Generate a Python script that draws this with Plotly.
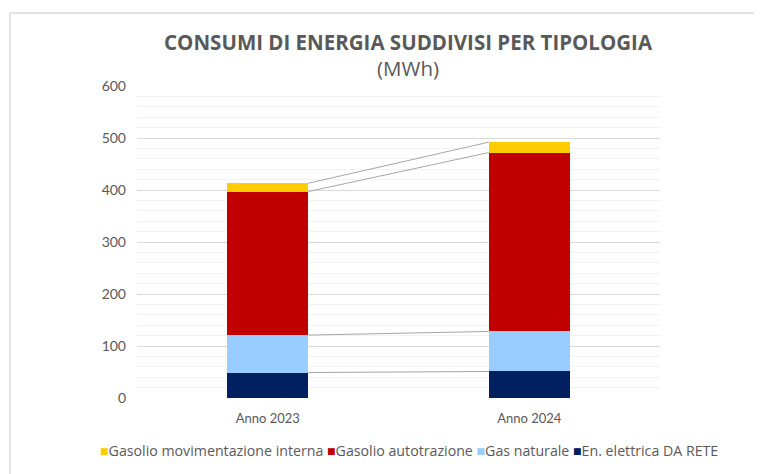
import plotly.graph_objects as go

# dati (MWh)
anni = ["Anno 2023", "Anno 2024"]
serie = ["En. elettrica DA RETE", "Gas naturale", "Gasolio autotrazione", "Gasolio movimentazione interna"]
en_elettrica = [49, 51]
gas_naturale = [72, 77]
gasolio_autotrazione = [276, 344]
gasolio_movimentazione = [16, 20]
colori = ["#002060", "#99CCFF", "#C00000", "#FFCC00"]

valori = [en_elettrica, gas_naturale, gasolio_autotrazione, gasolio_movimentazione]
x = [0, 1]
w = 0.31

fig = go.Figure()

#---------------------------- barre impilate ----------------------------
for nome, val, col in zip(serie, valori, colori):
    fig.add_trace(go.Bar(x=x, y=val, name=nome, width=w, showlegend=False,
                         marker=dict(color=col, line=dict(width=0))))

#---------------------------- linee di serie ----------------------------
cum = [0, 0]
for val in valori:
    cum = [cum[0] + val[0], cum[1] + val[1]]
    fig.add_trace(go.Scatter(x=[x[0] + w / 2, x[1] - w / 2], y=cum, mode="lines",
                             line=dict(color="#a6a6a6", width=1),
                             showlegend=False, hoverinfo="skip"))

#---------------------------- legenda (una riga, stile excel) ----------------------------
voci = ['<span style="color:%s">■</span>%s' % (c, n) for n, c in zip(serie, colori)]
legenda = " ".join(reversed(voci))

grigio = "#595959"
fig.update_layout(
    width=762, height=474,
    barmode="stack",
    plot_bgcolor="white", paper_bgcolor="white",
    margin=dict(l=129, r=110, t=78, b=84, autoexpand=False),
    font=dict(family="Lato", size=13, color=grigio),
    title=dict(text="<b>CONSUMI DI ENERGIA SUDDIVISI PER TIPOLOGIA</b><br>(MWh)",
               x=0.525, xanchor="center", y=0.912, yanchor="middle",
               font=dict(family="Open Sans", size=20.5, color=grigio)),
    xaxis=dict(range=[-0.5, 1.5], tickvals=x, ticktext=anni, showgrid=False,
               zeroline=False, showline=False, ticks="outside", ticklen=6,
               tickcolor="rgba(0,0,0,0)", ticklabelstandoff=2,
               tickfont=dict(size=13, color=grigio)),
    yaxis=dict(range=[0, 600], dtick=100, gridcolor="#d9d9d9", gridwidth=1,
               zeroline=False, showline=False, ticks="", ticklabelstandoff=10,
               tickfont=dict(size=14, color=grigio),
               minor=dict(dtick=20, showgrid=True, gridcolor="#f2f2f2", gridwidth=1)),
    bargap=0.69,
    annotations=[dict(text=legenda, xref="paper", yref="paper", x=0.52, y=-0.167,
                      xanchor="center", yanchor="middle", showarrow=False,
                      font=dict(family="Open Sans", size=14.2, color=grigio))],
    shapes=[
        dict(type="line", xref="paper", yref="paper", x0=-0.243, x1=1.2, y0=1.234, y1=1.234,
             line=dict(color="#d9d9d9", width=1.5)),
        dict(type="line", xref="paper", yref="paper", x0=-0.243, x1=-0.243, y0=1.234, y1=-0.3,
             line=dict(color="#d9d9d9", width=1.5)),
    ],
)

fig.write_html("out.html")
